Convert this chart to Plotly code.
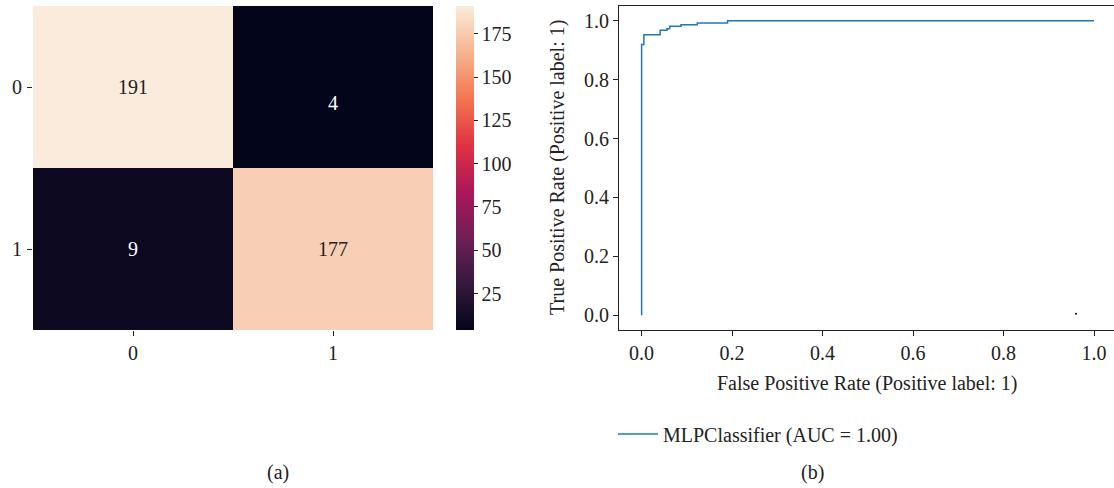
import plotly.graph_objects as go

# ---------------- data ----------------
cm_labels = ["0", "1"]
cm_values = [[191, 4],
             [9, 177]]

roc_fpr = [0.0, 0.0, 0.005, 0.005, 0.041, 0.041, 0.056, 0.056, 0.062, 0.062,
           0.087, 0.087, 0.123, 0.123, 0.190, 0.190, 1.0]
roc_tpr = [0.0, 0.919, 0.919, 0.952, 0.952, 0.968, 0.968, 0.973, 0.973, 0.981,
           0.981, 0.986, 0.986, 0.992, 0.992, 1.0, 1.0]
roc_name = "MLPClassifier (AUC = 1.00)"
stray_dot_x = [0.96]
stray_dot_y = [0.005]

cbar_ticks = [25, 50, 75, 100, 125, 150, 175]
roc_ticks = [0.0, 0.2, 0.4, 0.6, 0.8, 1.0]
panel_labels = ["(a)", "(b)"]

# ---------------- style ----------------
W, H = 1114, 488
FONT = "Liberation Serif"
FS = 20
TXT = "#222222"

def px_x(p):
    return p / W

def px_y(p):
    return 1 - p / H

rocket = [
    [0.0, "#03051A"], [0.143, "#35193E"], [0.286, "#701F57"],
    [0.429, "#AD1759"], [0.571, "#E13342"], [0.714, "#F37651"],
    [0.857, "#F6B48F"], [1.0, "#FAEBDD"],
]

zmin = min(min(r) for r in cm_values)
zmax = max(max(r) for r in cm_values)

fig = go.Figure()

fig.add_trace(go.Heatmap(
    z=cm_values, x=[0, 1], y=[0, 1],
    colorscale=rocket, zmin=zmin, zmax=zmax,
    xaxis="x", yaxis="y", showscale=True, hoverinfo="skip",
    xgap=0, ygap=0,
    colorbar=dict(
        x=px_x(456), xanchor="left", xpad=0,
        y=px_y(6), yanchor="top", ypad=0,
        len=324, lenmode="pixels",
        thickness=18, thicknessmode="pixels",
        outlinewidth=0,
        tickvals=cbar_ticks, ticks="outside", ticklen=4, tickwidth=1,
        tickcolor=TXT,
        tickfont=dict(family=FONT, size=FS, color=TXT),
    ),
))

fig.add_trace(go.Scatter(
    x=roc_fpr, y=roc_tpr, mode="lines", name=roc_name,
    line=dict(color="#1f77b4", width=1.5, shape="linear"),
    xaxis="x2", yaxis="y2", showlegend=True,
))
fig.add_trace(go.Scatter(
    x=stray_dot_x, y=stray_dot_y, mode="markers",
    marker=dict(color="black", size=2), xaxis="x2", yaxis="y2",
    showlegend=False, hoverinfo="skip",
))

annotations = []
# cell values
yshift = {(0, 1): -16}
for i, row in enumerate(cm_values):
    for j, v in enumerate(row):
        frac = (v - zmin) / (zmax - zmin)
        annotations.append(dict(
            x=j, y=i, xref="x", yref="y", text=str(v), showarrow=False,
            yshift=yshift.get((i, j), 0),
            font=dict(family=FONT, size=FS, color="white" if frac < 0.5 else TXT),
        ))

# ROC axis titles
annotations.append(dict(
    x=0.5, xref="x2", y=px_y(383), yref="paper", yanchor="middle",
    text="False Positive Rate (Positive label: 1)", showarrow=False,
    font=dict(family=FONT, size=FS, color=TXT),
))
annotations.append(dict(
    x=px_x(558), xref="paper", xanchor="center", y=0.5, yref="y2", yanchor="middle",
    text="True Positive Rate (Positive label: 1)", showarrow=False, textangle=-90,
    font=dict(family=FONT, size=FS, color=TXT),
))
# panel labels
for lab, xp in zip(panel_labels, [265, 826]):
    annotations.append(dict(
        x=px_x(xp), xref="paper", y=px_y(472), yref="paper", yanchor="middle",
        text=lab, showarrow=False, font=dict(family=FONT, size=FS, color=TXT),
    ))

tickfont = dict(family=FONT, size=FS, color=TXT)

fig.update_layout(
    width=W, height=H,
    margin=dict(l=0, r=0, t=0, b=0),
    paper_bgcolor="white", plot_bgcolor="white",
    font=dict(family=FONT, size=FS, color=TXT),
    xaxis=dict(
        domain=[px_x(33), px_x(433)], range=[-0.5, 1.5],
        tickvals=[0, 1], ticktext=cm_labels, ticks="outside", ticklen=5,
        tickwidth=1, tickcolor=TXT, showgrid=False, zeroline=False,
        showline=False, tickfont=tickfont, anchor="y",
    ),
    yaxis=dict(
        domain=[px_y(330), px_y(6)], range=[1.5, -0.5],
        tickvals=[0, 1], ticktext=cm_labels, ticks="outside", ticklen=5,
        tickwidth=1, tickcolor=TXT, showgrid=False, zeroline=False,
        showline=False, tickfont=tickfont, anchor="x", ticklabelstandoff=1,
    ),
    xaxis2=dict(
        domain=[px_x(619), 1.0], range=[-0.05, 1.044],
        tickvals=roc_ticks, tickformat=".1f", ticks="outside", ticklen=5,
        tickwidth=1, tickcolor=TXT, showgrid=False, zeroline=False,
        showline=True, linecolor=TXT, linewidth=1.2, mirror=True,
        tickfont=tickfont, anchor="y2",
    ),
    yaxis2=dict(
        domain=[px_y(330), px_y(6)], range=[-0.05, 1.05],
        tickvals=roc_ticks, tickformat=".1f", ticks="outside", ticklen=5,
        tickwidth=1, tickcolor=TXT, showgrid=False, zeroline=False,
        showline=True, linecolor=TXT, linewidth=1.2, mirror=False,
        tickfont=tickfont, anchor="x2",
    ),
    legend=dict(
        x=px_x(613), xanchor="left", y=px_y(434), yanchor="middle",
        bgcolor="rgba(0,0,0,0)", borderwidth=0,
        font=dict(family=FONT, size=FS, color=TXT),
        itemwidth=40,
    ),
    annotations=annotations,
)

fig.write_html(
    "out.html",
    config={"displayModeBar": False},
    post_script="document.body.style.margin='0';document.body.style.padding='0';",
)
